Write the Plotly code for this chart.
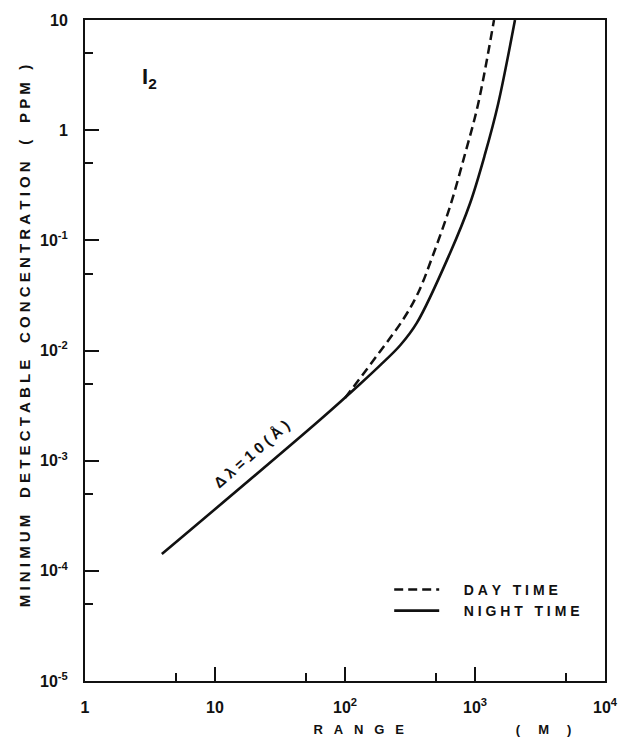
import plotly.graph_objects as go

# ---- data (range in m, concentration in ppm) ----
range_night = [3.9, 64, 130, 186, 265, 358, 642, 915, 1195, 1503, 2030]
conc_night = [1.42e-4, 2.34e-3, 4.94e-3, 7.33e-3, 1.11e-2, 1.79e-2, 7.64e-2, 0.216, 0.608, 1.71, 10]

range_day = [100, 186, 279, 365, 475, 642, 838, 1055, 1400]
conc_day = [3.7e-3, 9.8e-3, 1.9e-2, 3.33e-2, 7.33e-2, 0.202, 0.608, 1.71, 10]

x_tickvals = [1, 10, 100, 1000, 10000]
x_ticktext = ["1", "10", "10<sup>2</sup>", "10<sup>3</sup>", "10<sup>4</sup>"]
x_minor = [5, 50, 500, 5000]

y_tickvals = [10, 1, 0.1, 0.01, 0.001, 0.0001, 0.00001]
y_ticktext = ["10", "1", "10<sup>-1</sup>", "10<sup>-2</sup>", "10<sup>-3</sup>",
              "10<sup>-4</sup>", "10<sup>-5</sup>"]
y_minor = [5, 0.5, 0.05, 0.005, 0.0005, 0.00005]

FONT = "Liberation Sans, Arial, sans-serif"
NB = "\u00a0"
ZW = "\u200b"  # keeps leading spaces from being trimmed


def spaced(text, gap=1, wordgap=4):
    words = text.split(" ")
    return (NB * wordgap).join((NB * gap).join(list(w)) for w in words)


fig = go.Figure()
fig.add_trace(go.Scatter(
    x=range_day, y=conc_day, mode="lines",
    name=ZW + NB * 5 + spaced("DAY TIME", 1, 3),
    line=dict(color="#111111", width=2.5, dash="9px,5px", shape="spline", smoothing=1),
))
fig.add_trace(go.Scatter(
    x=range_night, y=conc_night, mode="lines",
    name=ZW + NB * 5 + spaced("NIGHT TIME", 1, 3),
    line=dict(color="#111111", width=2.6, shape="spline", smoothing=1),
))

axis_common = dict(
    showline=True, linecolor="#111111", linewidth=2, mirror=True,
    ticks="inside", ticklen=14, tickwidth=2, tickcolor="#111111",
    showgrid=False, zeroline=False,
    tickfont=dict(family=FONT, size=16, color="#111111", weight="bold"),
)

fig.update_xaxes(
    type="log", range=[0, 4], tickmode="array",
    tickvals=x_tickvals, ticktext=x_ticktext,
    minor=dict(tickmode="array", tickvals=x_minor, ticks="inside", ticklen=8,
               tickwidth=1.5, tickcolor="#111111", showgrid=False),
    ticklabelstandoff=11,
    title=dict(
        text=ZW + NB * 54 + spaced("RANGE", 3) + NB * 31 + "(" + NB * 5 + "M" + NB * 5 + ")",
        font=dict(family=FONT, size=13, color="#111111", weight="bold"),
        standoff=10,
    ),
    **axis_common,
)
fig.update_yaxes(
    type="log", range=[-5, 1], tickmode="array",
    tickvals=y_tickvals, ticktext=y_ticktext,
    minor=dict(tickmode="array", tickvals=y_minor, ticks="inside", ticklen=8,
               tickwidth=1.5, tickcolor="#111111", showgrid=False),
    ticklabelstandoff=12,
    title=dict(
        text=ZW + NB * 7 + spaced("MINIMUM") + NB * 4 + spaced("DETECTABLE") + NB * 4
        + spaced("CONCENTRATION") + NB * 4 + "(" + NB * 4 + spaced("PPM") + NB * 3 + ")",
        font=dict(family=FONT, size=15, color="#111111", weight="bold"),
        standoff=6,
    ),
    **axis_common,
)

fig.add_annotation(
    x=0.106, y=0.913, xref="paper", yref="paper", xanchor="left", yanchor="middle",
    text="I<sub>2</sub>", showarrow=False,
    font=dict(family=FONT, size=22, color="#111111", weight="bold"),
)
fig.add_annotation(
    x=0.321, y=0.344, xref="paper", yref="paper", xanchor="center", yanchor="middle",
    text="Δ" + NB + "λ" + NB + "=" + NB + "1" + NB + "0" + NB + "(" + NB + "Å" + NB + ")",
    textangle=-41, showarrow=False,
    font=dict(family=FONT, size=15, color="#111111", weight="bold"),
)

fig.update_layout(
    width=634, height=749,
    margin=dict(l=85, r=29, t=15, b=68, pad=0),
    paper_bgcolor="white", plot_bgcolor="white",
    showlegend=True,
    legend=dict(
        x=0.585, y=0.122, xanchor="left", yanchor="middle",
        bgcolor="rgba(0,0,0,0)", borderwidth=0,
        itemwidth=45,
        font=dict(family=FONT, size=14, color="#111111", weight="bold"),
    ),
)

fig.write_html("out.html")
